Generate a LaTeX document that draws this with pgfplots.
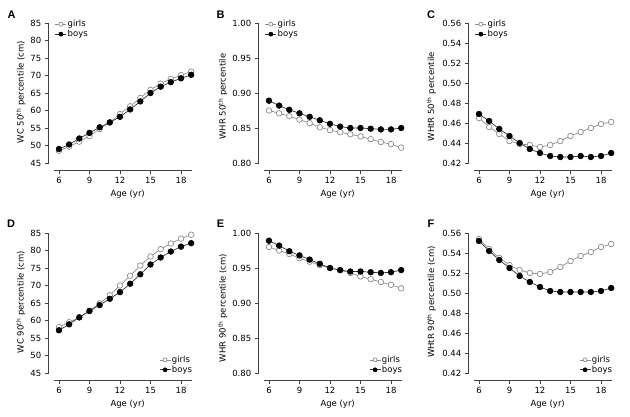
\documentclass[border=0pt]{standalone}
\usepackage{pgfplots}
\usepackage{pgfplotstable}
\pgfplotsset{compat=1.18}
\usepackage{fontspec}
\setmainfont{DejaVu Sans}
\newfontfamily\letterfont{Liberation Sans}
\newcommand\fs{\fontsize{8.5}{10}\selectfont}
\definecolor{girlgray}{gray}{0.55}
\definecolor{axisgray}{gray}{0.25}

% age, girls, boys
\pgfplotstableread{
age g b
6  48.5 49.0
7  49.7 50.3
8  51.1 52.0
9  52.7 53.6
10 54.7 55.2
11 56.6 56.6
12 59.0 58.2
13 61.2 60.3
14 63.6 62.6
15 65.9 65.0
16 67.7 66.8
17 69.0 68.1
18 70.1 69.2
19 71.1 70.2
}\wcfifty
\pgfplotstableread{
age g b
6  0.875 0.889
7  0.871 0.882
8  0.867 0.876
9  0.862 0.871
10 0.857 0.866
11 0.851 0.861
12 0.847 0.856
13 0.844 0.852
14 0.841 0.850
15 0.838 0.850
16 0.834 0.849
17 0.830 0.848
18 0.827 0.848
19 0.822 0.850
}\whrfifty
\pgfplotstableread{
age g b
6  0.465 0.469
7  0.456 0.462
8  0.449 0.454
9  0.442 0.447
10 0.439 0.440
11 0.438 0.434
12 0.436 0.430
13 0.438 0.427
14 0.442 0.426
15 0.447 0.426
16 0.451 0.427
17 0.455 0.426
18 0.459 0.427
19 0.461 0.430
}\whtrfifty
\pgfplotstableread{
age g b
6  58.1 57.2
7  59.5 58.9
8  60.9 60.9
9  62.8 62.7
10 64.9 64.4
11 67.2 66.2
12 70.0 68.1
13 72.8 70.5
14 75.7 73.2
15 78.3 76.0
16 80.4 78.0
17 82.0 79.7
18 83.4 81.1
19 84.5 82.1
}\wcninety
\pgfplotstableread{
age g b
6  0.980 0.989
7  0.975 0.982
8  0.970 0.974
9  0.964 0.968
10 0.959 0.962
11 0.954 0.956
12 0.950 0.950
13 0.947 0.947
14 0.943 0.945
15 0.938 0.945
16 0.934 0.944
17 0.930 0.943
18 0.926 0.944
19 0.921 0.947
}\whrninety
\pgfplotstableread{
age g b
6  0.554 0.552
7  0.544 0.542
8  0.535 0.533
9  0.528 0.525
10 0.523 0.517
11 0.520 0.511
12 0.519 0.506
13 0.521 0.502
14 0.526 0.501
15 0.532 0.501
16 0.537 0.501
17 0.541 0.501
18 0.546 0.502
19 0.549 0.505
}\whtrninety

\pgfplotsset{
  panel/.style={
    scale only axis, width=143.4pt, height=147pt,
    anchor=south west, clip=false,
    xmin=5, xmax=19.1, xtick={6,9,12,15,18},
    axis x line*=bottom, axis y line*=left,
    axis line style={draw=none},
    tick align=outside, major tick length=4pt,
    tick style={axisgray, line width=0.7pt},
    ticklabel style={font=\fs},
    /pgf/number format/assume math mode=true,
    xlabel={Age (yr)},
    every axis x label/.style={at={(axis description cs:0.55,0)}, yshift=-24pt, anchor=center, font=\fs},
    legend style={draw=none, fill=none, inner sep=0pt, row sep=0pt, nodes={inner sep=1pt, font=\fs}},
    legend cell align=left,
    legend image code/.code={\draw[mark repeat=2,mark phase=2,mark size=2pt] plot coordinates {(0pt,0pt) (5.5pt,0pt) (11pt,0pt)};},
  },
  ylab/.style 2 args={every axis y label/.style={at={(axis description cs:0,#2)}, xshift=#1, rotate=90, anchor=center, font=\fs}},
  legtop/.style={legend style={at={(axis description cs:0,1)}, anchor=north west, xshift=6pt, yshift=4pt}},
  legbot/.style={legend style={at={(axis description cs:1,0)}, anchor=south east, xshift=1pt, yshift=5pt}},
  girls/.style={girlgray, line width=0.7pt, mark=*, mark size=2.8pt, mark options={fill=white, draw=girlgray}},
  boys/.style={black!80, line width=0.7pt, mark=*, mark size=2.8pt, mark options={fill=black, draw=black}},
  dec2/.style={yticklabel style={/pgf/number format/fixed, /pgf/number format/fixed zerofill, /pgf/number format/precision=2}},
}
\newcommand\axlines[3]{%
  \draw[axisgray, line width=0.7pt] (axis cs:5,#1) -- (axis cs:5,#2);
  \draw[axisgray, line width=0.7pt] (axis cs:5.5,#3) -- (axis cs:19.1,#3);}
\newcommand\panellabel[2]{\node[font=\letterfont\bfseries\fontsize{11}{12}\selectfont] at #1 {#2};}

\begin{document}
\begin{tikzpicture}
\useasboundingbox (0,0) rectangle (630pt,417pt);

% A
\begin{axis}[panel, at={(48.8pt,247pt)}, ymin=43, ymax=85, ytick={45,50,...,85},
  ylabel={WC 50\textsuperscript{th} percentile (cm)}, ylab={-28pt}{0.53}, legtop]
\addplot[girls] table[x=age,y=g] {\wcfifty};
\addplot[boys] table[x=age,y=b] {\wcfifty};
\legend{girls,boys}
\axlines{45}{85}{43}
\end{axis}

% B
\begin{axis}[panel, dec2, at={(258.8pt,247pt)}, ymin=0.79, ymax=1.0, ytick={0.80,0.85,0.90,0.95,1.00},
  ylabel={WHR 50\textsuperscript{th} percentile}, ylab={-36pt}{0.5}, legtop]
\addplot[girls] table[x=age,y=g] {\whrfifty};
\addplot[boys] table[x=age,y=b] {\whrfifty};
\legend{girls,boys}
\axlines{0.80}{1.00}{0.79}
\end{axis}

% C
\begin{axis}[panel, dec2, at={(468.8pt,247pt)}, ymin=0.413, ymax=0.56, ytick={0.42,0.44,...,0.561},
  ylabel={WHtR 50\textsuperscript{th} percentile}, ylab={-37.5pt}{0.5}, legtop]
\addplot[girls] table[x=age,y=g] {\whtrfifty};
\addplot[boys] table[x=age,y=b] {\whtrfifty};
\legend{girls,boys}
\axlines{0.42}{0.56}{0.413}
\end{axis}

% D
\begin{axis}[panel, at={(48.8pt,37pt)}, ymin=43, ymax=85, ytick={45,50,...,85},
  ylabel={WC 90\textsuperscript{th} percentile (cm)}, ylab={-28pt}{0.53}, legbot]
\addplot[girls] table[x=age,y=g] {\wcninety};
\addplot[boys] table[x=age,y=b] {\wcninety};
\legend{girls,boys}
\axlines{45}{85}{43}
\end{axis}

% E
\begin{axis}[panel, dec2, at={(258.8pt,37pt)}, ymin=0.79, ymax=1.0, ytick={0.80,0.85,0.90,0.95,1.00},
  ylabel={WHR 90\textsuperscript{th} percentile (cm)}, ylab={-36pt}{0.49}, legbot]
\addplot[girls] table[x=age,y=g] {\whrninety};
\addplot[boys] table[x=age,y=b] {\whrninety};
\legend{girls,boys}
\axlines{0.80}{1.00}{0.79}
\end{axis}

% F
\begin{axis}[panel, dec2, at={(468.8pt,37pt)}, ymin=0.413, ymax=0.56, ytick={0.42,0.44,...,0.561},
  ylabel={WHtR 90\textsuperscript{th} percentile (cm)}, ylab={-37.5pt}{0.53}, legbot]
\addplot[girls] table[x=age,y=g] {\whtrninety};
\addplot[boys] table[x=age,y=b] {\whtrninety};
\legend{girls,boys}
\axlines{0.42}{0.56}{0.413}
\end{axis}

\panellabel{(11.5pt,402pt)}{A}
\panellabel{(220.5pt,402pt)}{B}
\panellabel{(431pt,402pt)}{C}
\panellabel{(11pt,193pt)}{D}
\panellabel{(220.5pt,193pt)}{E}
\panellabel{(431pt,193pt)}{F}
\end{tikzpicture}
\end{document}
